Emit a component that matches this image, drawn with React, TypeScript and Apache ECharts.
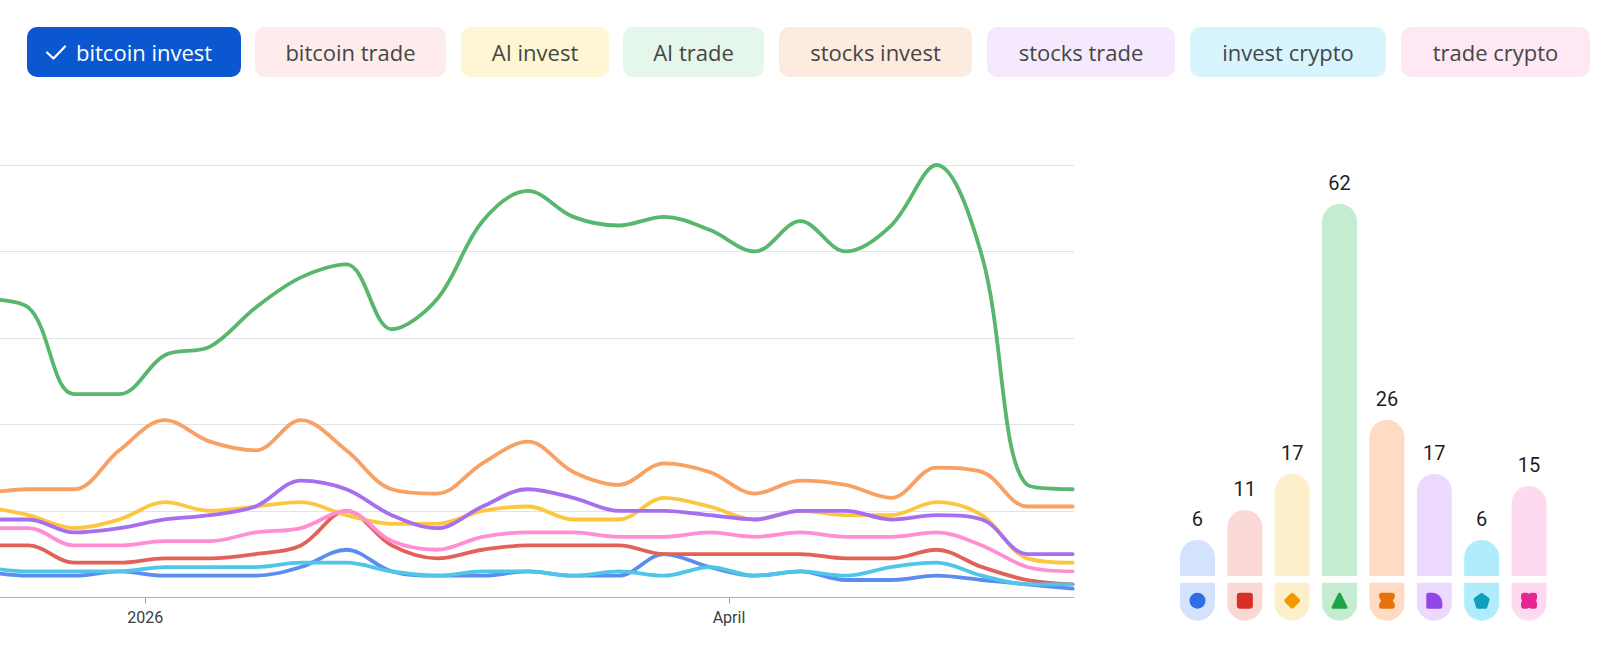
import React, { useEffect, useRef } from "react";
import * as echarts from "echarts";

// ---------- data ----------
const weeks = [
  "2025-12-07", "2025-12-14", "2025-12-21", "2025-12-28", "2026-01-04", "2026-01-11",
  "2026-01-18", "2026-01-25", "2026-02-01", "2026-02-08", "2026-02-15", "2026-02-22",
  "2026-03-01", "2026-03-08", "2026-03-15", "2026-03-22", "2026-03-29", "2026-04-05",
  "2026-04-12", "2026-04-19", "2026-04-26", "2026-05-03", "2026-05-10", "2026-05-17",
  "2026-05-24",
];

const seriesNames = [
  "bitcoin invest", "bitcoin trade", "AI invest", "AI trade",
  "stocks invest", "stocks trade", "invest crypto", "trade crypto",
];

const bitcoinInvest = [6, 5, 5, 6, 5, 5, 5, 7, 11, 6, 5, 5, 6, 5, 5, 10, 7, 5, 6, 4, 4, 5, 4, 3, 2];
const bitcoinTrade = [12, 12, 8, 8, 9, 9, 10, 12, 20, 12, 9, 11, 12, 12, 12, 10, 10, 10, 10, 9, 9, 11, 7, 4, 3];
const aiInvest = [21, 19, 16, 18, 22, 20, 21, 22, 19, 17, 17, 20, 21, 18, 18, 23, 21, 18, 20, 19, 19, 22, 19, 9, 8];
const aiTrade = [69, 67, 47, 47, 56, 58, 67, 74, 77, 62, 69, 87, 94, 88, 86, 88, 85, 80, 87, 80, 86, 100, 79, 26, 25];
const stocksInvest = [24, 25, 25, 34, 41, 36, 34, 41, 34, 25, 24, 31, 36, 29, 26, 31, 29, 24, 27, 26, 23, 30, 29, 21, 21];
const stocksTrade = [18, 18, 15, 16, 18, 19, 21, 27, 25, 19, 16, 21, 25, 23, 20, 20, 19, 18, 20, 20, 18, 19, 18, 10, 10];
const investCrypto = [7, 6, 6, 6, 7, 7, 7, 8, 8, 6, 5, 6, 6, 5, 6, 5, 7, 5, 6, 5, 7, 8, 5, 3, 3];
const tradeCrypto = [16, 16, 12, 12, 13, 13, 15, 16, 20, 13, 11, 14, 15, 15, 14, 14, 15, 14, 15, 14, 14, 15, 12, 7, 6];

const averages = [6, 11, 17, 62, 26, 17, 6, 15];

const xTickDates = ["2026-01-01", "2026-04-01"];
const xTickLabels = ["2026", "April"];

// ---------- styles ----------
const lineColors = ["#5c8cf0", "#e2625a", "#fcc63f", "#58b76c", "#f9a064", "#a66ff0", "#4fc6e8", "#ff8fd2"];
const barColors = ["#d3e3fd", "#fad8d5", "#feefcb", "#c5ecd0", "#fedbc2", "#ebdafd", "#b0ecfb", "#fddaf0"];
const iconColors = ["#2f6fe4", "#d93025", "#f29900", "#1ea446", "#e8710a", "#9146e6", "#0f9fba", "#e52592"];
const chipColors = ["#0b57d0", "#fdeceb", "#fef6d3", "#e5f6ea", "#feebdf", "#f4e9fd", "#d8f5fd", "#fde8f4"];
const CHIP_X = [27, 255, 461, 623, 779, 987, 1190, 1401];
const CHIP_W = [214, 191, 148, 141, 193, 188, 196, 189];

const ICON_PATHS = [
  "M8 0 A8 8 0 1 1 8 16 A8 8 0 1 1 8 0 Z",
  "M3 0 H13 A3 3 0 0 1 16 3 V13 A3 3 0 0 1 13 16 H3 A3 3 0 0 1 0 13 V3 A3 3 0 0 1 3 0 Z",
  "M8 0.3 Q8.7 0.3 9.3 0.9 L15.1 6.7 Q16.3 8 15.1 9.3 L9.3 15.1 Q8 16.3 6.7 15.1 L0.9 9.3 Q-0.3 8 0.9 6.7 L6.7 0.9 Q7.3 0.3 8 0.3 Z",
  "M8 1 Q9 1 9.6 2 L15.6 13 Q16.2 14.6 14.6 14.6 H1.4 Q-0.2 14.6 0.4 13 L6.4 2 Q7 1 8 1 Z",
  "M3 0 H13 Q16 0 16 3 Q16 5.5 13.8 8 Q16 10.5 16 13 Q16 16 13 16 H3 Q0 16 0 13 Q0 10.5 2.2 8 Q0 5.5 0 3 Q0 0 3 0 Z",
  "M2 0 H6 A10 10 0 0 1 16 10 V14 A2 2 0 0 1 14 16 H2 A2 2 0 0 1 0 14 V2 A2 2 0 0 1 2 0 Z",
  "M8 0.5 Q8.5 0.5 9 0.9 L15.2 5.4 Q16 6 15.7 6.9 L13.3 14.2 Q13 15.1 12 15.1 H4 Q3 15.1 2.7 14.2 L0.3 6.9 Q0 6 0.8 5.4 L7 0.9 Q7.5 0.5 8 0.5 Z",
  "M3 0 H6 A3 3 0 0 0 10 0 H13 A3 3 0 0 1 16 3 V6 A3 3 0 0 0 16 10 V13 A3 3 0 0 1 13 16 H10 A3 3 0 0 0 6 16 H3 A3 3 0 0 1 0 13 V10 A3 3 0 0 0 0 6 V3 A3 3 0 0 1 3 0 Z",
];

const FONT = "Roboto, 'Noto Sans', sans-serif";
const CHIP_FONT = "'Open Sans', Roboto, sans-serif";

const dayOf = (s: string) => (Date.parse(s) - Date.parse("2026-01-01")) / 86400000;

export default function App() {
  const ref = useRef<HTMLDivElement>(null);

  useEffect(() => {
    if (!ref.current) return;
    const chart = echarts.init(ref.current, null, { renderer: "svg" });
    const lineValues = [bitcoinInvest, bitcoinTrade, aiInvest, aiTrade, stocksInvest, stocksTrade, investCrypto, tradeCrypto];
    const xDays = weeks.map(dayOf);
    const tickDays = xTickDates.map(dayOf);

    const lineSeries = lineValues.map((vals, i) => ({
      type: "line",
      name: seriesNames[i],
      xAxisIndex: 0,
      yAxisIndex: 0,
      data: vals.map((v, j) => [xDays[j], v]),
      smooth: 0.35,
      showSymbol: false,
      symbol: "none",
      lineStyle: { width: 3.8, color: lineColors[i], cap: "round", join: "round" },
      itemStyle: { color: lineColors[i] },
      z: 3,
    }));

    const graphic: any[] = [];
    seriesNames.forEach((name, i) => {
      graphic.push({
        type: "rect",
        shape: { x: CHIP_X[i], y: 27, width: CHIP_W[i], height: 50, r: 10 },
        style: { fill: chipColors[i] },
      });
      graphic.push({
        type: "text",
        x: i === 0 ? 76 : CHIP_X[i] + CHIP_W[i] / 2,
        y: 52,
        style: {
          text: name,
          align: i === 0 ? "left" : "center",
          verticalAlign: "middle",
          fontSize: 22,
          fontFamily: CHIP_FONT,
          fill: i === 0 ? "#ffffff" : "#444746",
        },
      });
    });
    graphic.push({
      type: "polyline",
      shape: { points: [[47, 52.5], [53.5, 58.5], [65, 46.5]] },
      style: { stroke: "#ffffff", lineWidth: 2.2, fill: null, lineCap: "round", lineJoin: "round" },
    });

    const option: any = {
      animation: false,
      backgroundColor: "#ffffff",
      textStyle: { fontFamily: FONT },
      graphic,
      grid: [
        { left: 0, top: 165, width: 1074, height: 432.3 },
        { left: 1173.8, top: 156, width: 378.9, height: 420 },
      ],
      xAxis: [
        {
          type: "value",
          gridIndex: 0,
          min: -22.4,
          max: 143.2,
          splitLine: { show: false },
          axisLine: { show: true, lineStyle: { color: "#b0b0b0", width: 1 } },
          axisTick: { show: true, customValues: tickDays, length: 6, lineStyle: { color: "#9e9e9e" } },
          axisLabel: {
            show: true,
            customValues: tickDays,
            formatter: (v: number) => {
              const k = tickDays.findIndex((d) => Math.abs(d - v) < 0.01);
              return k >= 0 ? xTickLabels[k] : "";
            },
            fontSize: 16,
            color: "#3c4043",
            margin: 12,
            fontFamily: FONT,
          },
        },
        {
          type: "category",
          gridIndex: 1,
          data: seriesNames,
          show: false,
        },
      ],
      yAxis: [
        {
          type: "value",
          gridIndex: 0,
          min: 0,
          max: 100,
          interval: 20,
          axisLabel: { show: false },
          axisLine: { show: false },
          axisTick: { show: false },
          splitLine: { show: true, lineStyle: { color: "#e3e3e3", width: 1 } },
        },
        {
          type: "value",
          gridIndex: 1,
          min: 0,
          max: 70,
          show: false,
          splitLine: { show: false },
        },
      ],
      series: [
        ...lineSeries,
        {
          type: "bar",
          xAxisIndex: 1,
          yAxisIndex: 1,
          barWidth: 35,
          data: averages.map((v, i) => ({ value: v, itemStyle: { color: barColors[i] } })),
          itemStyle: { borderRadius: [17.5, 17.5, 0, 0] },
          label: {
            show: true,
            position: "top",
            distance: 11,
            fontSize: 20,
            color: "#1f1f1f",
            fontFamily: FONT,
          },
        },
        {
          type: "custom",
          xAxisIndex: 1,
          yAxisIndex: 1,
          data: averages.map((v, i) => [i, v]),
          clip: false,
          renderItem: (params: any, api: any) => {
            const i = api.value(0);
            const c = api.coord([i, 0]);
            const cx = c[0];
            const top = c[1] + 6.7;
            return {
              type: "group",
              children: [
                {
                  type: "rect",
                  shape: { x: cx - 17.5, y: top, width: 35, height: 38, r: [0, 0, 17.5, 17.5] },
                  style: { fill: barColors[i] },
                },
                {
                  type: "path",
                  shape: { pathData: ICON_PATHS[i], x: cx - 8, y: top + 10, width: 16, height: 16, layout: "cover" },
                  style: { fill: iconColors[i] },
                },
              ],
            };
          },
        },
      ],
    };

    chart.setOption(option);
    return () => chart.dispose();
  }, []);

  return (
    <div
      ref={ref}
      style={{ position: "fixed", left: 0, top: 0, width: 1610, height: 659, background: "#fff" }}
    />
  );
}
